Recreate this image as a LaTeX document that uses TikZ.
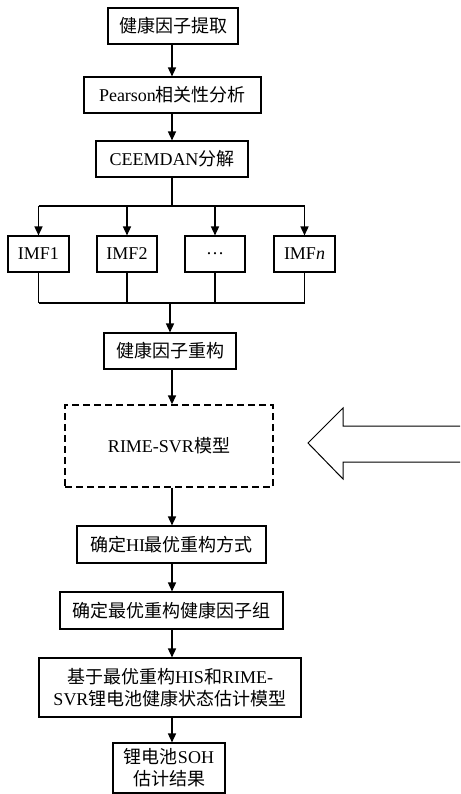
\documentclass[tikz,border=0pt]{standalone}
\usepackage{fontspec}
\setmainfont{Liberation Serif}
\newfontfamily\cjk{Noto Sans CJK SC}
\usetikzlibrary{arrows.meta}
\begin{document}
\begin{tikzpicture}[x=1pt,y=-1pt,
  box/.style={draw, line width=1.1pt, inner sep=0pt, align=center,
    font=\fontsize{18}{22}\selectfont},
  dbox/.style={box, dash pattern=on 7pt off 4pt, line width=1.4pt},
  arr/.style={line width=1.5pt, -{Triangle[length=9pt,width=8pt]}},
  ln/.style={line width=1.5pt}]
\useasboundingbox (0,0) rectangle (460,794);
\node[box, minimum width=130pt, minimum height=36pt] (b1) at (173,26) {{\cjk 健康因子提取}};
\node[box, minimum width=177pt, minimum height=36pt] (b2) at (172.5,95) {Pearson{\cjk 相关性分析}};
\node[box, minimum width=152pt, minimum height=36pt] (b3) at (172,159) {CEEMDAN{\cjk 分解}};
\node[box, minimum width=61pt, minimum height=36pt] (m1) at (38.5,254) {IMF1};
\node[box, minimum width=60pt, minimum height=36pt] (m2) at (127,254) {IMF2};
\node[box, minimum width=60pt, minimum height=36pt] (m3) at (215,254) {\ldots};
\node[box, minimum width=61pt, minimum height=36pt] (m4) at (304.5,254) {IMF\textit{n}};
\node[box, minimum width=132pt, minimum height=36pt] (b4) at (170,351) {{\cjk 健康因子重构}};
\node[dbox, minimum width=208pt, minimum height=82pt] (b5) at (169,446) {RIME-SVR{\cjk 模型}};
\node[box, minimum width=189pt, minimum height=37pt] (b6) at (171.5,544.5) {{\cjk 确定}HI{\cjk 最优重构方式}};
\node[box, minimum width=223pt, minimum height=37pt] (b7) at (171.5,610.5) {{\cjk 确定最优重构健康因子组}};
\node[box, minimum width=262pt, minimum height=59pt] (b8) at (170,687.5) {{\cjk 基于最优重构}HIS{\cjk 和}RIME-\\SVR{\cjk 锂电池健康状态估计模型}};
\node[box, minimum width=112pt, minimum height=50pt] (b9) at (169,768) {{\cjk 锂电池}SOH\\{\cjk 估计结果}};
\coordinate (split) at (172,206);
\coordinate (merge) at (170,303);
\draw[arr] (b1.south -| 172,0) -- (172,0 |- b2.north);
\draw[arr] (172,0 |- b2.south) -- (172,0 |- b3.north);
\draw[ln] (172,0 |- b3.south) -- (split);
\draw[ln] (m1.north |- split) -- (m4.north |- split);
\foreach \m in {m1,m2,m3,m4} {
  \draw[arr] (\m.north |- split) -- (\m.north);
  \draw[ln] (\m.south) -- (\m.south |- merge);
}
\draw[ln] (m1.south |- merge) -- (m4.south |- merge);
\draw[arr] (merge) -- (merge |- b4.north);
\draw[arr] (172,0 |- b4.south) -- (172,0 |- b5.north);
\draw[arr] (172,0 |- b5.south) -- (172,0 |- b6.north);
\draw[arr] (172,0 |- b6.south) -- (172,0 |- b7.north);
\draw[arr] (172,0 |- b7.south) -- (172,0 |- b8.north);
\draw[arr] (172,0 |- b8.south) -- (172,0 |- b9.north);
\draw[line width=1pt, line join=miter] (460,426) -- (343,426) -- (343,408) -- (308,443) -- (343,479) -- (343,462) -- (460,462);
\end{tikzpicture}
\end{document}
